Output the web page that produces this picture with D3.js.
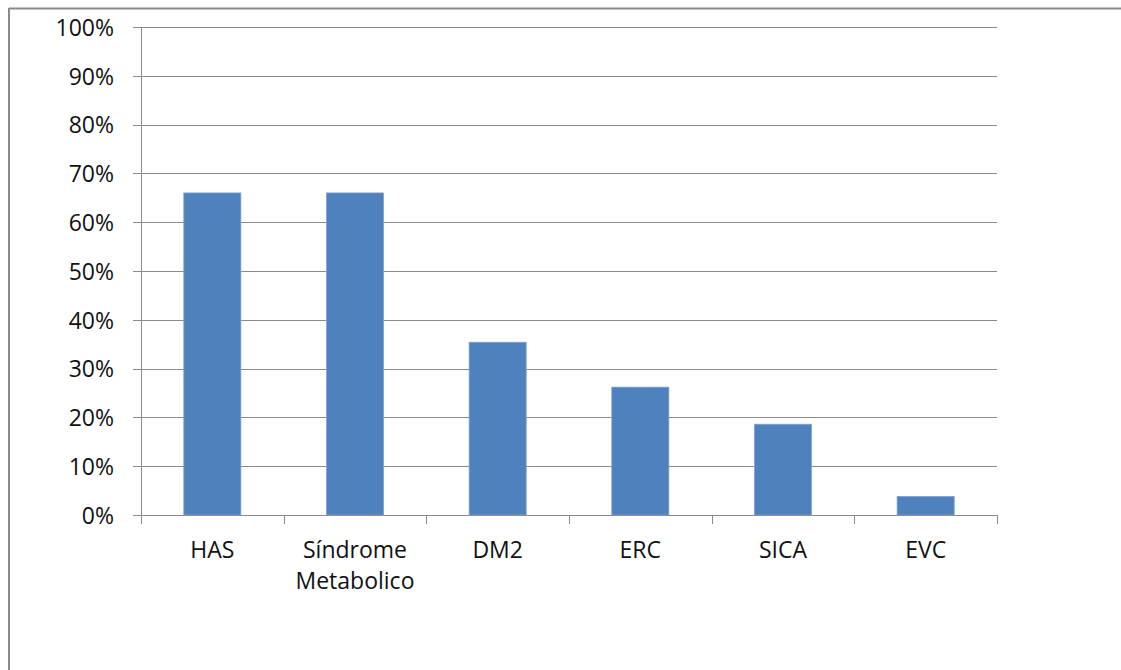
<!DOCTYPE html>
<html>
<head>
<meta charset="utf-8">
<script src="https://cdn.jsdelivr.net/npm/d3@7"></script>
<style>
  html, body { margin: 0; padding: 0; background: #fff; }
  svg { display: block; }
</style>
</head>
<body>
<svg id="chart" width="1121" height="670"></svg>
<script>
// Prevalence of comorbidities (share of patients)
const categories = ["HAS", "Síndrome\nMetabolico", "DM2", "ERC", "SICA", "EVC"];
const values = [0.66, 0.66, 0.354, 0.262, 0.186, 0.038];
const yTicks = [0, 0.1, 0.2, 0.3, 0.4, 0.5, 0.6, 0.7, 0.8, 0.9, 1.0];

const svg = d3.select("#chart");
const W = 1121, H = 670;
const margin = { left: 141, right: W - 997, top: 27, bottom: H - 515 };

const font = "'Open Sans', 'Liberation Sans', Arial, sans-serif";
const fontSize = 23;

// outer chart-area frame (top and left edges visible)
svg.append("line").attr("x1", 9).attr("x2", W).attr("y1", 8.5).attr("y2", 8.5)
  .attr("stroke", "#8a8a8a").attr("stroke-width", 2);
svg.append("line").attr("x1", 9).attr("x2", 9).attr("y1", 8).attr("y2", H)
  .attr("stroke", "#8a8a8a").attr("stroke-width", 2);

const x = d3.scaleBand()
  .domain(categories)
  .range([margin.left, W - margin.right])
  .paddingInner(0.6)
  .paddingOuter(0.3);

const y = d3.scaleLinear().domain([0, 1]).range([H - margin.bottom, margin.top]);

// horizontal gridlines with left tick marks
const yAxis = d3.axisLeft(y)
  .tickValues(yTicks)
  .tickFormat(d3.format(".0%"))
  .tickSize(-(W - margin.right - margin.left))
  .tickPadding(27);

const gy = svg.append("g")
  .attr("transform", `translate(${margin.left},0)`)
  .call(yAxis);
gy.select(".domain").remove();
gy.selectAll(".tick line")
  .attr("stroke", "#8c8c8c")
  .attr("stroke-width", 1)
  .attr("x1", -8)
  .attr("shape-rendering", "crispEdges");
gy.selectAll(".tick text")
  .attr("font-family", font)
  .attr("font-size", fontSize)
  .attr("fill", "#111")
  .attr("dy", "0.36em");

// vertical axis line
svg.append("line")
  .attr("x1", margin.left).attr("x2", margin.left)
  .attr("y1", y(1)).attr("y2", y(0))
  .attr("stroke", "#8c8c8c").attr("shape-rendering", "crispEdges");

// bars
svg.append("g").selectAll("rect")
  .data(values)
  .join("rect")
  .attr("x", (d, i) => x(categories[i]))
  .attr("width", x.bandwidth())
  .attr("y", d => y(d))
  .attr("height", d => y(0) - y(d))
  .attr("fill", "#4f81bd")
  .attr("stroke", "#7fa3d1")
  .attr("stroke-width", 0.8);

// category axis: baseline and boundary ticks
const x0 = margin.left, x1 = W - margin.right;
const step = (x1 - x0) / categories.length;
const bounds = d3.range(categories.length + 1).map(i => x0 + i * step);
svg.append("line")
  .attr("x1", x0).attr("x2", x1).attr("y1", y(0)).attr("y2", y(0))
  .attr("stroke", "#8c8c8c").attr("shape-rendering", "crispEdges");
svg.append("g").selectAll("line")
  .data(bounds)
  .join("line")
  .attr("x1", d => Math.round(d) + 0.5).attr("x2", d => Math.round(d) + 0.5)
  .attr("y1", y(0)).attr("y2", y(0) + 9)
  .attr("stroke", "#8c8c8c");

// category labels (multi-line)
const labels = svg.append("g").selectAll("text")
  .data(categories)
  .join("text")
  .attr("text-anchor", "middle")
  .attr("font-family", font)
  .attr("font-size", fontSize)
  .attr("fill", "#111")
  .attr("x", d => x(d) + x.bandwidth() / 2)
  .attr("y", 558);
labels.each(function(d) {
  const t = d3.select(this);
  const cx = t.attr("x");
  d.split("\n").forEach((line, i) => {
    t.append("tspan").attr("x", cx).attr("dy", i === 0 ? 0 : 31).text(line);
  });
});
</script>
</body>
</html>
